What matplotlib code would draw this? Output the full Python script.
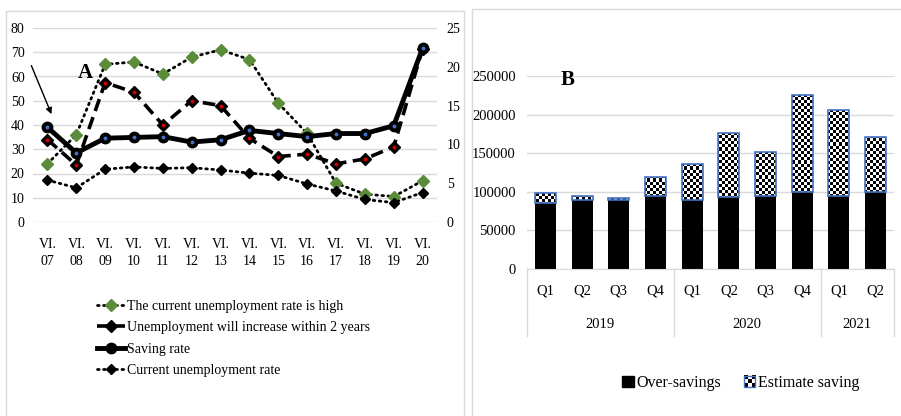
import numpy as np
import matplotlib
matplotlib.use("Agg")
import matplotlib.pyplot as plt
from matplotlib.patches import Patch, Rectangle
from matplotlib.legend_handler import HandlerBase
from matplotlib.image import BboxImage
from matplotlib.transforms import Bbox, TransformedBbox

plt.rcParams['font.family'] = ['Liberation Serif', 'DejaVu Serif']

# Panel A: survey answers and savings, June of each year
years = ["VI.\n07", "VI.\n08", "VI.\n09", "VI.\n10", "VI.\n11", "VI.\n12", "VI.\n13",
         "VI.\n14", "VI.\n15", "VI.\n16", "VI.\n17", "VI.\n18", "VI.\n19", "VI.\n20"]
unemp_high = [24, 36, 65, 66, 61, 68, 71, 67, 49, 36.5, 16, 11.5, 10.5, 17]
unemp_increase = [34, 23.5, 57.5, 53.5, 40, 50, 48, 34.5, 27, 28, 24, 26, 31, 71.5]
# right-hand scale (%)
saving_rate = [12.2, 8.9, 10.8, 10.9, 11.0, 10.3, 10.6, 11.8, 11.4, 11.0, 11.4, 11.4, 12.4, 22.4]
unemp_rate = [5.4, 4.4, 6.8, 7.1, 6.9, 7.0, 6.7, 6.3, 6.0, 4.9, 4.0, 2.9, 2.5, 3.8]

# Panel B: quarterly savings
quarters = ["Q1", "Q2", "Q3", "Q4", "Q1", "Q2", "Q3", "Q4", "Q1", "Q2"]
year_groups = ["2019", "2020", "2021"]
year_sizes = [4, 4, 2]
over_savings = [85000, 89500, 89500, 95000, 90000, 93000, 95000, 100000, 95000, 99500]
estimate_saving = [14000, 5000, 2500, 24000, 46000, 83000, 56000, 125000, 111000, 71500]

W, H = 901, 416
fig = plt.figure(figsize=(W / 100, H / 100), dpi=100)
GRID = '#d9d9d9'
BLUE = '#4472c4'
GREEN = '#5b8c3a'


def fx(px):
    return px / W


def fy(py):
    return 1 - py / H


# outer frames of the two panels
fig.patches.append(Rectangle((fx(6), fy(430)), fx(464) - fx(6), fy(11) - fy(430),
                             transform=fig.transFigure, fill=False, ec=GRID, lw=1))
fig.patches.append(Rectangle((fx(472), fy(430)), fx(920) - fx(472), fy(9) - fy(430),
                             transform=fig.transFigure, fill=False, ec=GRID, lw=1))

# ---------------- Panel A ----------------
ax = fig.add_axes([fx(33), fy(222), fx(437) - fx(33), fy(28) - fy(222)])
ax2 = ax.twinx()
x = np.arange(len(years))

dot = dict(dashes=(0.6, 1.6), dash_capstyle='round')
l1, = ax.plot(x, unemp_high, color='black', lw=2, marker='D', ms=6.5,
              mfc=GREEN, mec=GREEN, zorder=3, **dot)
l2, = ax.plot(x, unemp_increase, color='black', lw=2.6, dashes=(3.5, 1.8),
              marker='D', ms=6, mfc='black', mec='black', zorder=3)
ax.plot(x, unemp_increase, ls='none', marker='o', ms=1.8, color='#d00000', zorder=4)

l3, = ax2.plot(x, saving_rate, color='black', lw=3.5, marker='o', ms=7.5,
               mfc='black', mec='black', zorder=3)
ax2.plot(x, saving_rate, ls='none', marker='o', ms=1.8, color=BLUE, zorder=4)
l4, = ax2.plot(x, unemp_rate, color='black', lw=2, marker='D', ms=5.5,
               mfc='black', mec='black', zorder=3, **dot)

ax.set_xlim(-0.5, len(years) - 0.5)
ax.set_ylim(0, 80)
ax.set_yticks(range(0, 81, 10))
ax2.set_ylim(0, 25)
ax2.set_yticks(range(0, 26, 5))
ax.set_xticks(x)
ax.set_xticklabels(years, linespacing=1.45)
ax.grid(axis='y', color=GRID, lw=1)
ax.set_axisbelow(True)
for a in (ax, ax2):
    for s in a.spines.values():
        s.set_visible(False)
    a.tick_params(length=0, labelsize=10, colors='black')
ax.tick_params(axis='x', pad=11.5)
ax.tick_params(axis='y', pad=6)
ax2.tick_params(axis='y', pad=7)

# arrow pointing at the first saving-rate value
ax2.annotate('', xy=(0.14, saving_rate[0] + 1.7), xytext=(-14.5, 35), textcoords='offset points',
             arrowprops=dict(arrowstyle='-|>', color='black', lw=1,
                             shrinkA=0, shrinkB=0, mutation_scale=9))
fig.text(fx(85), fy(73), 'A', fontsize=15, fontweight='bold', ha='center', va='center')

fig.legend([l1, l2, l3, l4],
           ['The current unemployment rate is high',
            'Unemployment will increase within 2 years',
            'Saving rate', 'Current unemployment rate'],
           loc='upper left', bbox_to_anchor=(fx(97), fy(300)), frameon=False,
           fontsize=10, handlelength=2.0, handletextpad=0.15, labelspacing=0.6,
           borderaxespad=0, borderpad=0)

# ---------------- Panel B ----------------
bx = fig.add_axes([fx(527), fy(269), fx(894) - fx(527), fy(76) - fy(269)])
xb = np.arange(len(quarters))
bar_w = 0.57
bx.bar(xb, over_savings, width=bar_w, color='black', zorder=2)
est = bx.bar(xb, estimate_saving, bottom=over_savings, width=bar_w,
             facecolor='none', edgecolor=BLUE, lw=1.2, zorder=4)

# checkerboard fill for the estimate segments, ~3 px cells
ax_w_px = (fx(894) - fx(527)) * W
ax_h_px = (fy(76) - fy(269)) * H
ncols = int(ax_w_px / 3)
nrows = int(ax_h_px / 3)
checker = (np.indices((nrows, ncols)).sum(axis=0) % 2).astype(float)
for p in est.patches:
    im = bx.imshow(checker, cmap='gray', interpolation='nearest', aspect='auto',
                   extent=(-0.5, len(quarters) - 0.5, 0, 250000), zorder=3, vmin=0, vmax=1)
    im.set_clip_path(p)
bx.set_xlim(-0.5, len(quarters) - 0.5)
bx.set_ylim(0, 250000)
bx.set_yticks(range(0, 250001, 50000))
bx.grid(axis='y', color=GRID, lw=1)
bx.set_axisbelow(True)
for s in ('left', 'right', 'top'):
    bx.spines[s].set_visible(False)
bx.spines['bottom'].set_color(GRID)
bx.tick_params(length=0, labelsize=10.5, colors='black')
bx.tick_params(axis='y', pad=8)
bx.set_xticks(xb)
bx.set_xticklabels(quarters)
bx.tick_params(axis='x', pad=11)

# year level of the category axis
sep_y = -(336 - 269) / 193
edges = np.concatenate([[0], np.cumsum(year_sizes)]) - 0.5
for e in edges:
    bx.plot([e, e], [0, sep_y], transform=bx.get_xaxis_transform(), color=GRID,
            lw=1, clip_on=False)
for yr, a, b in zip(year_groups, edges[:-1], edges[1:]):
    bx.text((a + b) / 2, -(324 - 269) / 193, yr, transform=bx.get_xaxis_transform(),
            ha='center', va='center', fontsize=10.5)

fig.text(fx(568), fy(80), 'B', fontsize=15, fontweight='bold', ha='center', va='center')


class CheckerHandler(HandlerBase):
    def create_artists(self, legend, orig_handle, xdescent, ydescent, width, height,
                       fontsize, trans):
        side = min(width, height)
        x0 = -xdescent + (width - side) / 2
        y0 = -ydescent + (height - side) / 2
        bb = TransformedBbox(Bbox.from_bounds(x0, y0, side, side), trans)
        img = BboxImage(bb, cmap='gray', interpolation='nearest')
        img.set_data((np.indices((3, 3)).sum(axis=0) % 2).astype(float))
        img.set_clim(0, 1)
        rect = Rectangle((x0, y0), side, side, facecolor='none', edgecolor=BLUE,
                         lw=1, transform=trans)
        return [img, rect]


over_h = Patch(facecolor='black', edgecolor='black')
est_h = Patch(facecolor='white', edgecolor=BLUE)
fig.legend([over_h, est_h], ['Over-savings', 'Estimate saving'],
           handler_map={est_h: CheckerHandler()},
           loc='center', bbox_to_anchor=(fx(741), fy(383)), ncol=2, frameon=False,
           fontsize=11.5, handlelength=0.7, handleheight=0.7, handletextpad=0.2,
           columnspacing=1.4)

fig.savefig('out.png', dpi=100)
